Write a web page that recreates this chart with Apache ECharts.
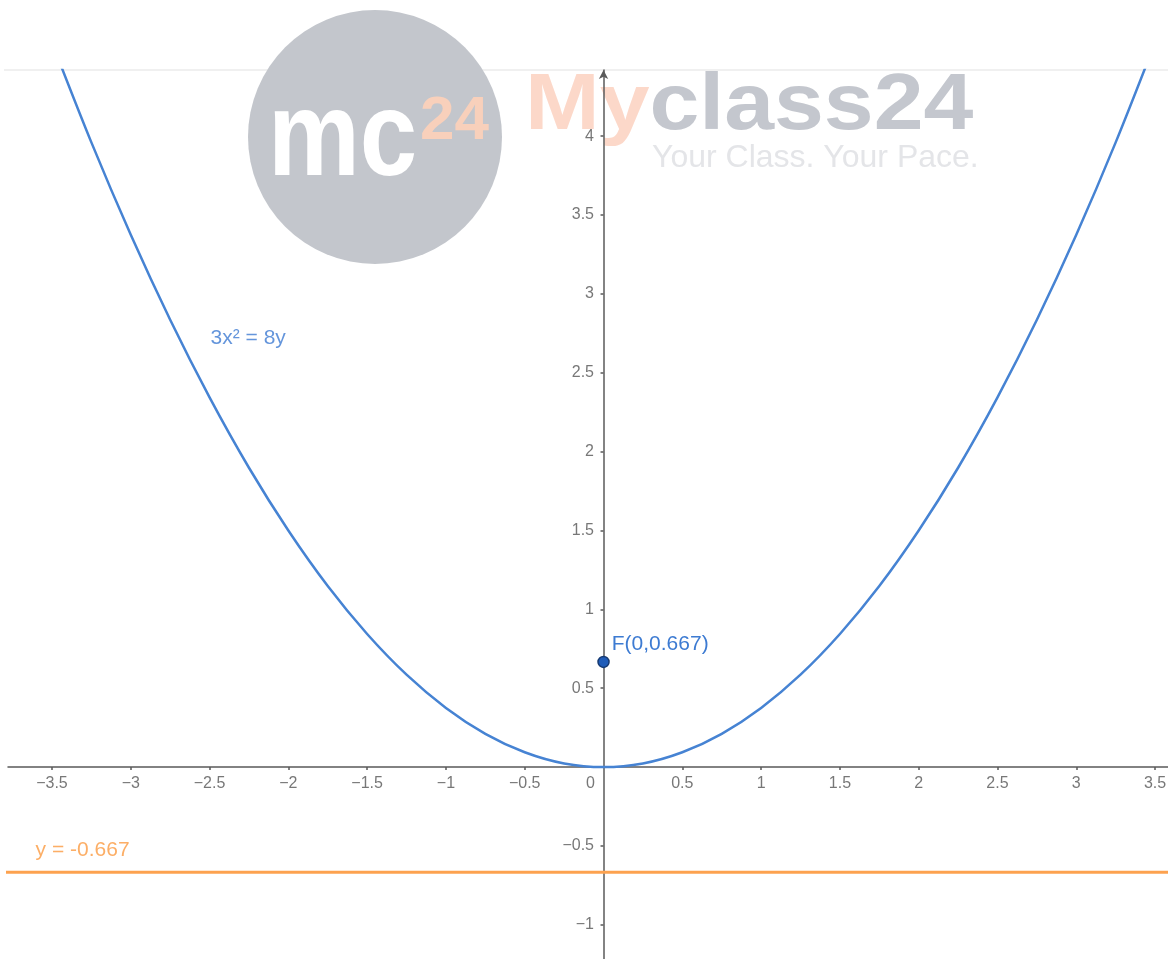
<!DOCTYPE html>
<html>
<head>
<meta charset="utf-8">
<script src="https://cdn.jsdelivr.net/npm/echarts@6/dist/echarts.min.js"></script>
<style>
html,body{margin:0;padding:0;background:#fff;}
#chart{width:1168px;height:959px;}
</style>
</head>
<body>
<div id="chart"></div>
<script>
// ---- data ----
var xRange = [-3.779, 3.582];
var yRange = [-1.217, 4.42];
var xTickValues = [-3.5, -3, -2.5, -2, -1.5, -1, -0.5, 0.5, 1, 1.5, 2, 2.5, 3, 3.5];
var yTickValues = [-1, -0.5, 0.5, 1, 1.5, 2, 2.5, 3, 3.5, 4];
var originLabel = '0';
// parabola 3x^2 = 8y
var curveX = [-3.5, -3.25, -3, -2.75, -2.5, -2.25, -2, -1.75, -1.5, -1.25, -1, -0.75, -0.5, -0.25, 0,
              0.25, 0.5, 0.75, 1, 1.25, 1.5, 1.75, 2, 2.25, 2.5, 2.75, 3, 3.25, 3.5];
var curveY = [4.594, 3.961, 3.375, 2.836, 2.344, 1.898, 1.5, 1.148, 0.844, 0.586, 0.375, 0.211, 0.094, 0.023, 0,
              0.023, 0.094, 0.211, 0.375, 0.586, 0.844, 1.148, 1.5, 1.898, 2.344, 2.836, 3.375, 3.961, 4.594];
var directrixY = -0.667;
var directrixX = [-3.9, 3.7];
var focusPoint = [0, 0.667];
var focusLabel = 'F(0,0.667)';
var curveLabel = '3x² = 8y';
var curveLabelPos = [-2.497, 2.72];
var directrixLabel = 'y = -0.667';
var directrixLabelPos = [-3.607, -0.526];

var FONT = '"Liberation Sans", Arial, Helvetica, sans-serif';
var minus = function (v) { return String(v).replace('-', '\u2212'); };

var curveData = curveX.map(function (x, i) { return [x, curveY[i]]; });
var directrixData = directrixX.map(function (x) { return [x, directrixY]; });
var tickLabelStyle = {show: true, color: '#555', fontSize: 16, fontFamily: FONT};
var xLabelData = xTickValues.map(function (v) {
  return {value: [v, 0], label: Object.assign({}, tickLabelStyle, {position: 'bottom', distance: 8, formatter: minus(v)})};
});
xLabelData.push({value: [0, 0], label: Object.assign({}, tickLabelStyle, {position: 'bottom', distance: 8, offset: [-13, 0], formatter: originLabel})});
var yLabelData = yTickValues.map(function (v) {
  return {value: [0, v], label: Object.assign({}, tickLabelStyle, {position: 'left', distance: 9, formatter: minus(v)})};
});

var chart = echarts.init(document.getElementById('chart'), null, {renderer: 'canvas'});
var option = {
  animation: false,
  backgroundColor: '#ffffff',
  grid: {left: 8, right: 0, top: 70, bottom: 0, containLabel: false, outerBoundsMode: 'none'},
  xAxis: {
    type: 'value', min: xRange[0], max: xRange[1],
    splitLine: {show: false},
    axisLine: {onZero: true, lineStyle: {color: '#5a5a5a', width: 1.5}, symbol: ['none', 'none']},
    axisTick: {show: true, length: 3, customValues: xTickValues, lineStyle: {color: '#5a5a5a', width: 1.5}},
    axisLabel: {show: false}
  },
  yAxis: {
    type: 'value', min: yRange[0], max: yRange[1],
    splitLine: {show: false},
    axisLine: {onZero: true, lineStyle: {color: '#5a5a5a', width: 1.5}, symbol: ['none', 'arrow'], symbolSize: [7, 9]},
    axisTick: {show: true, length: 3, customValues: yTickValues, lineStyle: {color: '#5a5a5a', width: 1.5}},
    axisLabel: {show: false}
  },
  graphic: [
    {type: 'line', z: -20, shape: {x1: 4, y1: 70, x2: 1168, y2: 70}, style: {stroke: '#f0f0f0', lineWidth: 2}},
    {type: 'circle', z: -10, shape: {cx: 375, cy: 137, r: 127}, style: {fill: '#c3c6cc'}},
    {type: 'text', z: -9, x: 268, y: 202, scaleX: 0.86, style: {text: 'mc', fill: '#ffffff', font: 'bold 120px ' + FONT, verticalAlign: 'bottom'}},
    {type: 'text', z: -9, x: 420, y: 153, style: {text: '24', fill: '#f8d0bb', font: 'bold 62px ' + FONT, verticalAlign: 'bottom'}},
    {type: 'text', z: -9, x: 525, y: 147, scaleX: 1.12, style: {
      text: '{a|My}{b|class24}', verticalAlign: 'bottom', font: 'bold 80px ' + FONT,
      rich: {a: {fill: '#fcd8c9', color: '#fcd8c9', font: 'bold 80px ' + FONT}, b: {fill: '#c4c7ce', color: '#c4c7ce', font: 'bold 80px ' + FONT}}}},
    {type: 'text', z: -9, x: 652, y: 174, style: {text: 'Your Class. Your Pace.', fill: '#e4e5e8', font: '32px ' + FONT, verticalAlign: 'bottom'}}
  ],
  series: [
    {type: 'line', name: 'directrix', data: directrixData, showSymbol: false, clip: true,
     lineStyle: {color: '#fda24f', width: 3}, z: 3},
    {type: 'line', name: 'parabola', data: curveData, showSymbol: false, smooth: 0.3, clip: true,
     lineStyle: {color: '#4683d3', width: 2.5}, z: 4},
    {type: 'scatter', name: 'focus', data: [focusPoint], symbolSize: 11, z: 6,
     itemStyle: {color: '#1f5cb8', borderColor: '#163a72', borderWidth: 1.5, opacity: 1},
     label: {show: true, position: 'right', distance: 2, offset: [0, -18], formatter: focusLabel,
       color: '#3d7bd2', fontSize: 21, fontFamily: FONT}},
    {type: 'scatter', name: 'labels', symbolSize: 1, z: 5, silent: true,
     itemStyle: {color: 'transparent'},
     data: [
       {value: curveLabelPos, label: {show: true, position: 'right', distance: 0, formatter: curveLabel, color: '#3d7bd2', fontSize: 21, fontFamily: FONT}},
       {value: directrixLabelPos, label: {show: true, position: 'right', distance: 0, formatter: directrixLabel, color: '#fb9a40', fontSize: 21, fontFamily: FONT}}
     ]},
    {type: 'scatter', name: 'xTickLabels', symbolSize: 1, z: 5, silent: true,
     itemStyle: {color: 'transparent'}, data: xLabelData},
    {type: 'scatter', name: 'yTickLabels', symbolSize: 1, z: 5, silent: true,
     itemStyle: {color: 'transparent'}, data: yLabelData}
  ]
};
chart.setOption(option);
</script>
</body>
</html>
